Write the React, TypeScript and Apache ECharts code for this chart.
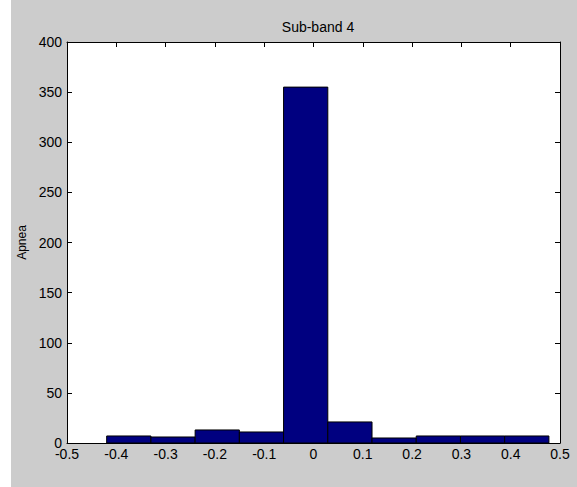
import React, { useEffect, useRef } from "react";
import * as echarts from "echarts";

const binStart = [-0.4195, -0.3298, -0.2401, -0.1504, -0.0607, 0.029, 0.1187, 0.2084, 0.2981, 0.3878];
const binEnd = [-0.3298, -0.2401, -0.1504, -0.0607, 0.029, 0.1187, 0.2084, 0.2981, 0.3878, 0.4775];
const counts = [7, 6, 13, 11, 355, 21, 5, 7, 7, 7];
const xTicks = [-0.5, -0.4, -0.3, -0.2, -0.1, 0, 0.1, 0.2, 0.3, 0.4, 0.5];
const yTicks = [0, 50, 100, 150, 200, 250, 300, 350, 400];

export default function App() {
  const ref = useRef<HTMLDivElement>(null);
  useEffect(() => {
    if (!ref.current) return;
    const chart = echarts.init(ref.current, null, { renderer: "svg" });
    const font = "Liberation Sans, Arial, sans-serif";
    const fmtX = (v: number) => String(Math.round(v * 10) / 10);
    const baseX = {
      type: "value",
      min: xTicks[0],
      max: xTicks[xTicks.length - 1],
      interval: 0.1,
      splitLine: { show: false },
      axisLine: { show: true, onZero: false, lineStyle: { color: "#000", width: 1 } },
      axisTick: { show: true, inside: true, length: 5, lineStyle: { color: "#000" } },
    };
    const baseY = {
      type: "value",
      min: yTicks[0],
      max: yTicks[yTicks.length - 1],
      interval: 50,
      splitLine: { show: false },
      axisLine: { show: true, onZero: false, lineStyle: { color: "#000", width: 1 } },
      axisTick: { show: true, inside: true, length: 5, lineStyle: { color: "#000" } },
    };
    chart.setOption({
      animation: false,
      backgroundColor: "#cccccc",
      graphic: [
        { type: "rect", left: 0, top: 0, shape: { width: 11, height: 487 }, style: { fill: "#ffffff" } },
      ],
      title: {
        text: "Sub-band 4",
        left: 313,
        top: 15,
        textAlign: "center",
        textStyle: { fontFamily: font, fontSize: 14, fontWeight: "normal", color: "#000" },
      },
      grid: { left: 67, right: 17, top: 42, bottom: 44, backgroundColor: "#fff", show: true, borderWidth: 0 },
      xAxis: [
        {
          ...baseX,
          position: "bottom",
          axisLabel: { show: true, formatter: fmtX, color: "#000", fontFamily: font, fontSize: 14, margin: 4, showMinLabel: true, showMaxLabel: true },
        },
        { ...baseX, position: "top", axisLabel: { show: false } },
      ],
      yAxis: [
        {
          ...baseY,
          position: "left",
          name: "Apnea",
          nameLocation: "middle",
          nameGap: 38,
          nameTextStyle: { fontFamily: font, fontSize: 12, color: "#000" },
          axisLabel: { show: true, color: "#000", fontFamily: font, fontSize: 14, margin: 5, showMinLabel: true, showMaxLabel: true },
        },
        { ...baseY, position: "right", axisLabel: { show: false } },
      ],
      series: [
        {
          type: "custom",
          xAxisIndex: 0,
          yAxisIndex: 0,
          data: counts.map((c, i) => [binStart[i], binEnd[i], c]),
          encode: { x: [0, 1], y: 2 },
          renderItem: (params: any, api: any) => {
            const p0 = api.coord([api.value(0), api.value(2)]);
            const p1 = api.coord([api.value(1), 0]);
            return {
              type: "rect",
              shape: { x: p0[0], y: p0[1], width: p1[0] - p0[0], height: p1[1] - p0[1] },
              style: { fill: "#000080", stroke: "#000", lineWidth: 1 },
            };
          },
        },
      ],
    });
    return () => chart.dispose();
  }, []);
  return <div ref={ref} style={{ position: "fixed", left: 0, top: 0, width: 577, height: 487 }} />;
}
